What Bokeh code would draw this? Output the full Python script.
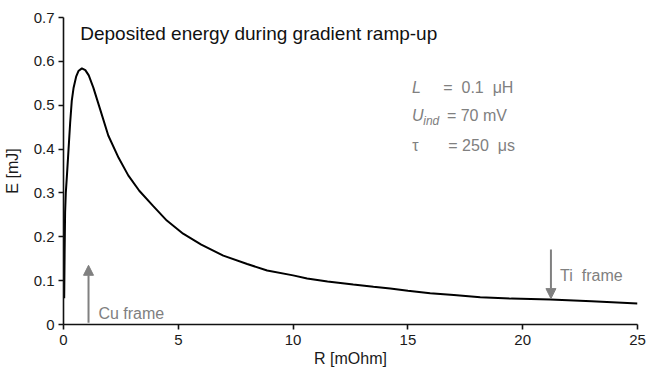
from bokeh.plotting import figure
from bokeh.models import Label, Arrow, NormalHead, FixedTicker, Range1d
from bokeh.embed import file_html
from bokeh.resources import INLINE

# ---- data ----
R_mOhm = [0.03, 0.05, 0.07, 0.1, 0.15, 0.22, 0.29, 0.36, 0.44, 0.55, 0.65, 0.8,
          0.95, 1.1, 1.3, 1.6, 1.95, 2.4, 2.82, 3.3, 3.91, 4.5, 5.21, 6.0, 6.96,
          8.0, 8.87, 10.0, 10.61, 11.5, 12.62, 13.5, 14.23, 15.0, 15.97, 17.0,
          18.15, 19.5, 21.2, 23.0, 25.0]
E_mJ = [0.06, 0.17, 0.256, 0.30, 0.34, 0.40, 0.46, 0.51, 0.54, 0.565, 0.578, 0.584,
        0.58, 0.568, 0.54, 0.49, 0.431, 0.38, 0.34, 0.305, 0.27, 0.237, 0.207,
        0.182, 0.157, 0.138, 0.123, 0.112, 0.105, 0.098, 0.091, 0.086, 0.082,
        0.077, 0.071, 0.067, 0.062, 0.059, 0.057, 0.053, 0.048]

x_ticks = [0, 5, 10, 15, 20, 25]
y_ticks = [0, 0.1, 0.2, 0.3, 0.4, 0.5, 0.6, 0.7]

title_text = "Deposited energy during gradient ramp-up"
x_label = "R [mOhm]"
y_label = "E [mJ]"

NB = "\u00a0"
# frame markers (R position, arrow start E, arrow end E)
cu_frame = {"R": 1.09, "E_from": 0.004, "E_to": 0.135, "text": "Cu frame"}
ti_frame = {"R": 21.23, "E_from": 0.171, "E_to": 0.059, "text": "Ti" + NB + " frame"}

FONT = "Liberation Sans"
GRAY = "#808080"

p = figure(width=648, height=370, output_backend="svg", toolbar_location=None,
           x_range=Range1d(0, 25), y_range=Range1d(0, 0.7))
p.min_border_left = 63
p.min_border_right = 11
p.min_border_top = 17
p.min_border_bottom = 46
p.outline_line_color = None
p.grid.visible = False
p.background_fill_color = "white"
p.border_fill_color = "white"

p.line(R_mOhm, E_mJ, line_color="black", line_width=2)

for ax in (p.xaxis[0], p.yaxis[0]):
    ax.axis_line_color = "#111111"
    ax.axis_line_width = 1.6
    ax.major_tick_line_color = "#111111"
    ax.major_tick_line_width = 1.6
    ax.major_tick_out = 5
    ax.major_tick_in = 0
    ax.minor_tick_line_color = None
    ax.major_label_text_font = FONT
    ax.major_label_text_font_size = "15px"
    ax.major_label_text_color = "#1a1a1a"
    ax.axis_label_text_font = FONT
    ax.axis_label_text_font_size = "16px"
    ax.axis_label_text_font_style = "normal"
    ax.axis_label_text_color = "#1a1a1a"

p.xaxis[0].ticker = FixedTicker(ticks=x_ticks)
p.yaxis[0].ticker = FixedTicker(ticks=y_ticks)
p.yaxis[0].major_label_overrides = {0: "0"}
p.xaxis[0].axis_label = x_label
p.yaxis[0].axis_label = y_label
p.xaxis[0].major_label_standoff = 5
p.xaxis[0].axis_label_standoff = 2
p.yaxis[0].major_label_standoff = 4
p.yaxis[0].axis_label_standoff = 10

# title inside the plot
p.add_layout(Label(x=0.73, y=0.6635, text=title_text, text_font=FONT,
                   text_font_size="19px", text_color="#111111",
                   text_baseline="alphabetic", text_align="left"))

def lab(x, y, t, size="16px", style="normal", color=GRAY):
    p.add_layout(Label(x=x, y=y, text=t, text_font=FONT, text_font_size=size,
                       text_font_style=style, text_color=color,
                       text_baseline="alphabetic", text_align="left"))

# parameter block
lab(15.18, 0.541, "L", style="italic")
lab(16.54, 0.541, "=" + NB + " 0.1" + NB + " μH")
lab(15.18, 0.4765, "U", style="italic")
lab(15.67, 0.465, "ind", size="12px", style="italic")
lab(16.70, 0.4765, "= 70 mV")
lab(15.19, 0.408, "τ")
lab(16.76, 0.408, "= 250" + NB + " μs")

# frame markers
for fr, tx, ty in ((cu_frame, 1.52, 0.0258), (ti_frame, 21.63, 0.112)):
    p.add_layout(Arrow(end=NormalHead(size=10, fill_color=GRAY, line_color=GRAY),
                       x_start=fr["R"], y_start=fr["E_from"],
                       x_end=fr["R"], y_end=fr["E_to"],
                       line_color=GRAY, line_width=2))
    lab(tx, ty, fr["text"])

open("out.html", "w").write(file_html(p, INLINE))
